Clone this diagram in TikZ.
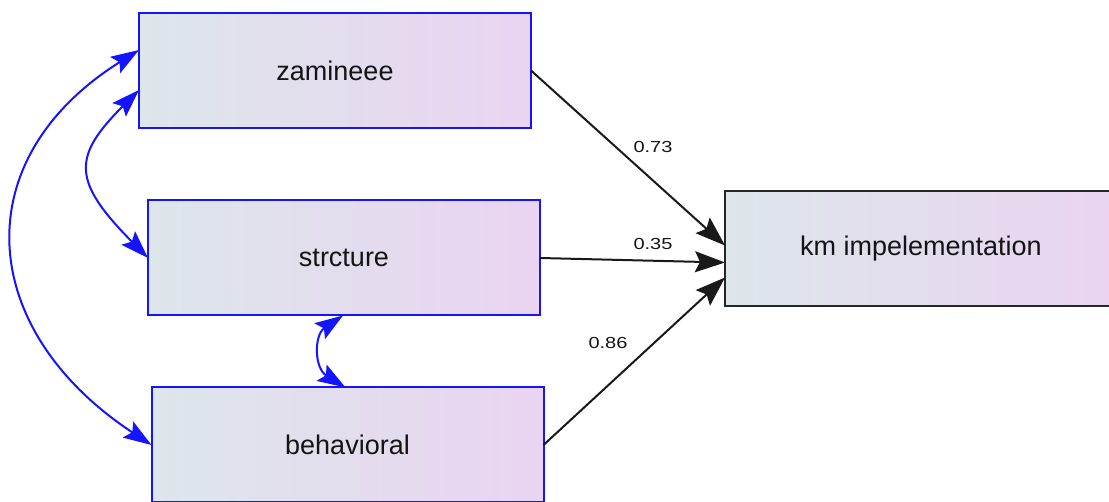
\documentclass[tikz,border=0pt]{standalone}
\usepackage{fontspec}
\setmainfont{Liberation Sans}
\usetikzlibrary{arrows.meta}
\definecolor{boxleft}{RGB}{221,230,234}
\definecolor{boxright}{RGB}{234,212,241}
\definecolor{edgeblue}{RGB}{20,20,255}
\definecolor{inktext}{RGB}{20,20,20}
\newcommand{\weightlabel}[1]{\scalebox{1.25}[1]{#1}}
\tikzset{
  varbox/.style={rectangle, draw=edgeblue, line width=2pt,
    left color=boxleft, right color=boxright,
    minimum width=392pt, minimum height=115pt, inner sep=0pt, outer sep=0pt,
    text=inktext, font=\fontsize{27}{31}\selectfont},
  outbox/.style={varbox, draw=black!85},
  regpath/.style={draw=black!90, line width=2pt,
    -{Stealth[length=30pt, width=21pt, inset=5pt]}},
  covar/.style={draw=edgeblue, line width=2pt,
    {Stealth[length=28pt, width=19pt, inset=5pt]}-{Stealth[length=28pt, width=19pt, inset=5pt]}},
  coef/.style={text=inktext, font=\fontsize{16}{18}\selectfont, inner sep=0pt}
}
\begin{document}
\begin{tikzpicture}[x=1pt, y=-1pt]
  \useasboundingbox (0,0) rectangle (1109,502);

  % observed variables
  \node[varbox] (zam) at (335,70.5) {zamineee};
  \node[varbox] (str) at (344,258) {strcture};
  \node[varbox] (beh) at (347.5,445) {behavioral};
  \node[outbox] (km)  at (921,248.5) {km impelementation};

  % regression paths
  \draw[regpath] (zam.east) -- ([yshift=3pt]km.west);
  \draw[regpath] (str.east) -- ([yshift=-14pt]km.west);
  \draw[regpath] (beh.east) -- ([yshift=-29pt]km.west);

  % path coefficients
  \node[coef] (c1) at (653,147) {\weightlabel{0.73}};
  \node[coef] (c2) at (653,244) {\weightlabel{0.35}};
  \node[coef] (c3) at (608,343) {\weightlabel{0.86}};

  % covariances between exogenous variables
  \draw[covar] ([yshift=20.5pt]zam.west) .. controls (-36,160) and (-23,330) .. (beh.west);
  \draw[covar] ([yshift=-19.5pt]zam.west) .. controls (72,157) and (72,181) .. (str.west);
  \draw[covar] ([xshift=-1pt]str.south) .. controls (314,335) and (314,368) .. ([xshift=-2pt]beh.north);
\end{tikzpicture}
\end{document}
